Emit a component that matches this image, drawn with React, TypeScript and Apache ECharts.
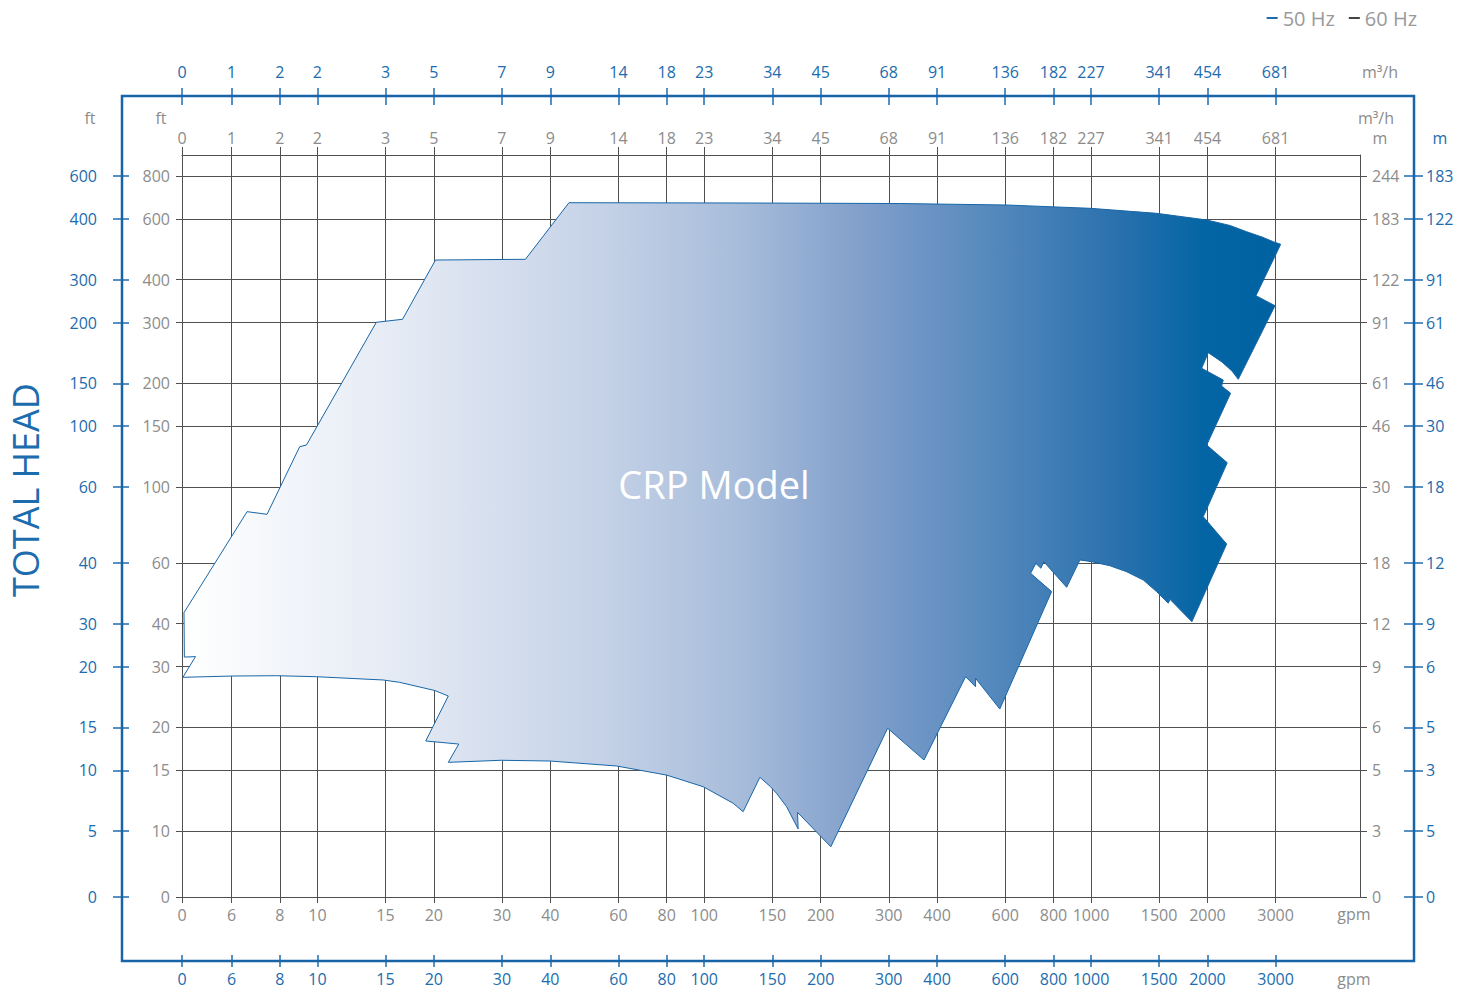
import React, { useEffect, useRef } from 'react';
import * as echarts from 'echarts';

// ---- Axis ticks and labels ----
const GPM_TICKS = [0, 6, 8, 10, 15, 20, 30, 40, 60, 80, 100, 150, 200, 300, 400, 600, 800, 1000, 1500, 2000, 3000];
const M3H_LABELS = ['0', '1', '2', '2', '3', '5', '7', '9', '14', '18', '23', '34', '45', '68', '91', '136', '182', '227', '341', '454', '681'];
const FT_TICKS = [0, 10, 15, 20, 30, 40, 60, 100, 150, 200, 300, 400, 600, 800];
const M_INNER_LABELS = ['0', '3', '5', '6', '9', '12', '18', '30', '46', '61', '91', '122', '183', '244'];
const FT_OUTER_LABELS = ['0', '5', '10', '15', '20', '30', '40', '60', '100', '150', '200', '300', '400', '600'];
const M_OUTER_LABELS = ['0', '5', '3', '5', '6', '9', '12', '18', '30', '46', '61', '91', '122', '183'];
const LEGEND_NAMES = ['50 Hz', '60 Hz'];

// ---- CRP performance range outline (flow in gpm, head in ft) ----
const RANGE_GPM = [4.49, 4.84, 4.53, 4.52, 6.58, 7.41, 9.0, 9.37, 14.2, 16.6, 20.2, 34.5, 44.7, 131, 320, 605, 994, 1477, 1991, 2287, 2526, 2767, 2959, 3093, 2669, 2990, 2403, 2314, 2180, 2010, 1932, 2197, 2176, 2296, 1991, 2250, 1951, 2242, 1823, 1600, 1584, 1477, 1365, 1236, 1119, 1004, 936, 865, 755, 742, 720, 698, 791, 581, 503, 503, 474, 370, 298, 212.5, 174.3, 174.9, 163.3, 153.8, 148.4, 139.3, 126.1, 118.8, 99.4, 79.9, 59.3, 39.9, 29.9, 21.8, 23.2, 19.06, 21.8, 20.1, 16.3, 14.8, 9.94, 7.83, 6.05];
const RANGE_FT = [27.95, 32.1, 32.0, 43.1, 84.7, 83.2, 130.8, 132.3, 300.8, 306.9, 456.3, 458.5, 669.6, 668.3, 666, 659.4, 645, 623.7, 596.6, 575, 551.4, 532.3, 515.8, 506.9, 359.4, 336.1, 205.4, 217.1, 230.6, 245.4, 221.1, 204.4, 196.3, 187.1, 132.3, 117.5, 81.9, 68.2, 40.55, 47.1, 45.9, 49.6, 53.6, 56.66, 58.97, 60.6, 61.3, 51.05, 60.6, 58.0, 59.9, 56.05, 49.6, 22.6, 27.76, 26.24, 28.06, 16.07, 19.87, 8.99, 11.32, 10.13, 11.76, 12.86, 13.44, 14.31, 11.37, 12.03, 13.44, 14.53, 15.44, 15.96, 16.04, 15.82, 17.88, 18.25, 24.66, 25.59, 27.03, 27.45, 28.06, 28.25, 28.19];

// log-scale axis extents (the "0" tick sits at the axis origin)
const X_LOG_MIN = 0.65;
const X_LOG_MAX = 3.6954;
const Y_LOG_MIN = 0.8078;
const Y_LOG_MAX = 2.9645;
const toX = (g: number) => (g <= 0 ? X_LOG_MIN : Math.log10(g));
const toY = (f: number) => (f <= 0 ? Y_LOG_MIN : Math.log10(f));

const FONT = "'Open Sans', sans-serif";
const GRAY = '#8c8c8c';
const BLUE = '#1c6cae';
const FRAME = '#1765a8';
const LINE = '#505050';

function labeler(pos: number[], labels: string[]) {
  return (v: number) => {
    const i = pos.findIndex((p) => Math.abs(p - v) < 1e-6);
    return i >= 0 ? labels[i] : '';
  };
}

export default function App() {
  const ref = useRef<HTMLDivElement>(null);
  useEffect(() => {
    if (!ref.current) return;
    const chart = echarts.init(ref.current, undefined, { renderer: 'svg' });
    const xPos = GPM_TICKS.map(toX);
    const yPos = FT_TICKS.map(toY);
    const gpmLabels = GPM_TICKS.map(String);
    const ftLabels = FT_TICKS.map(String);

    const xAxisBase = (opts: any) => ({
      type: 'value',
      min: X_LOG_MIN,
      max: X_LOG_MAX,
      position: opts.position,
      offset: opts.offset,
      axisLine: { show: opts.line, lineStyle: { color: LINE, width: 1 } },
      axisTick: { show: true, customValues: xPos, length: opts.tick, lineStyle: { color: opts.color === BLUE ? BLUE : LINE, width: opts.color === BLUE ? 1.5 : 1 } },
      axisLabel: { customValues: xPos, formatter: labeler(xPos, opts.labels), color: opts.color, fontSize: 16, fontFamily: FONT, margin: opts.margin },
      splitLine: { show: !!opts.split, lineStyle: { color: LINE, width: 1 } },
    });
    const yAxisBase = (opts: any) => ({
      type: 'value',
      min: Y_LOG_MIN,
      max: Y_LOG_MAX,
      position: opts.position,
      offset: opts.offset,
      axisLine: { show: opts.line, lineStyle: { color: LINE, width: 1 } },
      axisTick: { show: true, customValues: yPos, length: opts.tick, lineStyle: { color: opts.color === BLUE ? BLUE : LINE, width: opts.color === BLUE ? 1.5 : 1 } },
      axisLabel: { customValues: yPos, formatter: labeler(yPos, opts.labels), color: opts.color, fontSize: 16, fontFamily: FONT, margin: opts.margin },
      splitLine: { show: !!opts.split, lineStyle: { color: LINE, width: 1 } },
    });

    const gradient = new echarts.graphic.LinearGradient(0, 0, 1, 0, [
      { offset: 0, color: '#ffffff' },
      { offset: 0.2, color: '#e4eaf4' },
      { offset: 0.38, color: '#c5d2e7' },
      { offset: 0.5, color: '#a9bedb' },
      { offset: 0.62, color: '#819fcb' },
      { offset: 0.75, color: '#5086bb' },
      { offset: 0.85, color: '#2a71ae' },
      { offset: 0.93, color: '#0465a4' },
      { offset: 1, color: '#0062a1' },
    ]);

    const txt = (x: number, y: number, text: string, color: string, fontSize = 16, extra: any = {}) => ({
      type: 'text',
      x,
      y,
      z: 100,
      ...extra,
      style: { text, fill: color, fontSize, fontFamily: FONT, align: 'center', verticalAlign: 'middle' },
    });

    chart.setOption({
      animation: false,
      backgroundColor: '#ffffff',
      grid: { left: 182, right: 113, top: 155, bottom: 94, containLabel: false, outerBoundsMode: 'none' },
      legend: {
        data: LEGEND_NAMES,
        right: 51,
        top: 3,
        icon: 'rect',
        itemWidth: 11,
        itemHeight: 2,
        itemGap: 14,
        textStyle: { color: '#9a9a9a', fontSize: 20, fontFamily: FONT },
      },
      xAxis: [
        xAxisBase({ position: 'bottom', offset: 0, line: true, tick: 6, labels: gpmLabels, color: GRAY, margin: 10, split: true }),
        xAxisBase({ position: 'top', offset: 0, line: true, tick: 8, labels: M3H_LABELS, color: GRAY, margin: 9 }),
        xAxisBase({ position: 'top', offset: 50, line: false, tick: 17, labels: M3H_LABELS, color: BLUE, margin: 25 }),
        xAxisBase({ position: 'bottom', offset: 58, line: false, tick: 12, labels: gpmLabels, color: BLUE, margin: 16 }),
      ],
      yAxis: [
        yAxisBase({ position: 'left', offset: 0, line: true, tick: 6, labels: ftLabels, color: GRAY, margin: 12, split: true }),
        yAxisBase({ position: 'right', offset: 0, line: true, tick: 7, labels: M_INNER_LABELS, color: GRAY, margin: 12 }),
        yAxisBase({ position: 'left', offset: 53, line: false, tick: 16, labels: FT_OUTER_LABELS, color: BLUE, margin: 32 }),
        yAxisBase({ position: 'right', offset: 44, line: false, tick: 19, labels: M_OUTER_LABELS, color: BLUE, margin: 22 }),
      ],
      graphic: [
        { type: 'rect', z: 1, shape: { x: 122, y: 96, width: 1292, height: 865 }, style: { fill: 'none', stroke: FRAME, lineWidth: 2.5 } },
        txt(90, 118, 'ft', GRAY),
        txt(161, 118, 'ft', GRAY),
        txt(1380, 72, 'm³/h', GRAY),
        txt(1376, 118, 'm³/h', GRAY),
        txt(1380, 138, 'm', GRAY),
        txt(1440, 138, 'm', BLUE),
        txt(1354, 914, 'gpm', GRAY),
        txt(1354, 979, 'gpm', GRAY),
        txt(714, 484, 'CRP Model', '#ffffff', 38),
        txt(25, 490, 'TOTAL HEAD', BLUE, 36, { rotation: Math.PI / 2 }),
      ],
      series: [
        {
          type: 'custom',
          name: 'CRP',
          xAxisIndex: 0,
          yAxisIndex: 0,
          z: 5,
          data: RANGE_GPM.map((g, i) => [toX(g), toY(RANGE_FT[i])]),
          renderItem: (params: any, api: any) => {
            if (params.dataIndex !== 0) return null;
            const points = RANGE_GPM.map((g, i) => api.coord([toX(g), toY(RANGE_FT[i])]));
            return {
              type: 'polygon',
              shape: { points },
              style: { fill: gradient, stroke: '#1766a8', lineWidth: 1 },
            };
          },
        },
        { type: 'line', name: LEGEND_NAMES[0], data: [], itemStyle: { color: BLUE }, lineStyle: { color: BLUE } },
        { type: 'line', name: LEGEND_NAMES[1], data: [], itemStyle: { color: '#444444' }, lineStyle: { color: '#444444' } },
      ],
    });
    return () => chart.dispose();
  }, []);
  return <div ref={ref} style={{ position: 'fixed', left: 0, top: 0, width: 1473, height: 991 }} />;
}
